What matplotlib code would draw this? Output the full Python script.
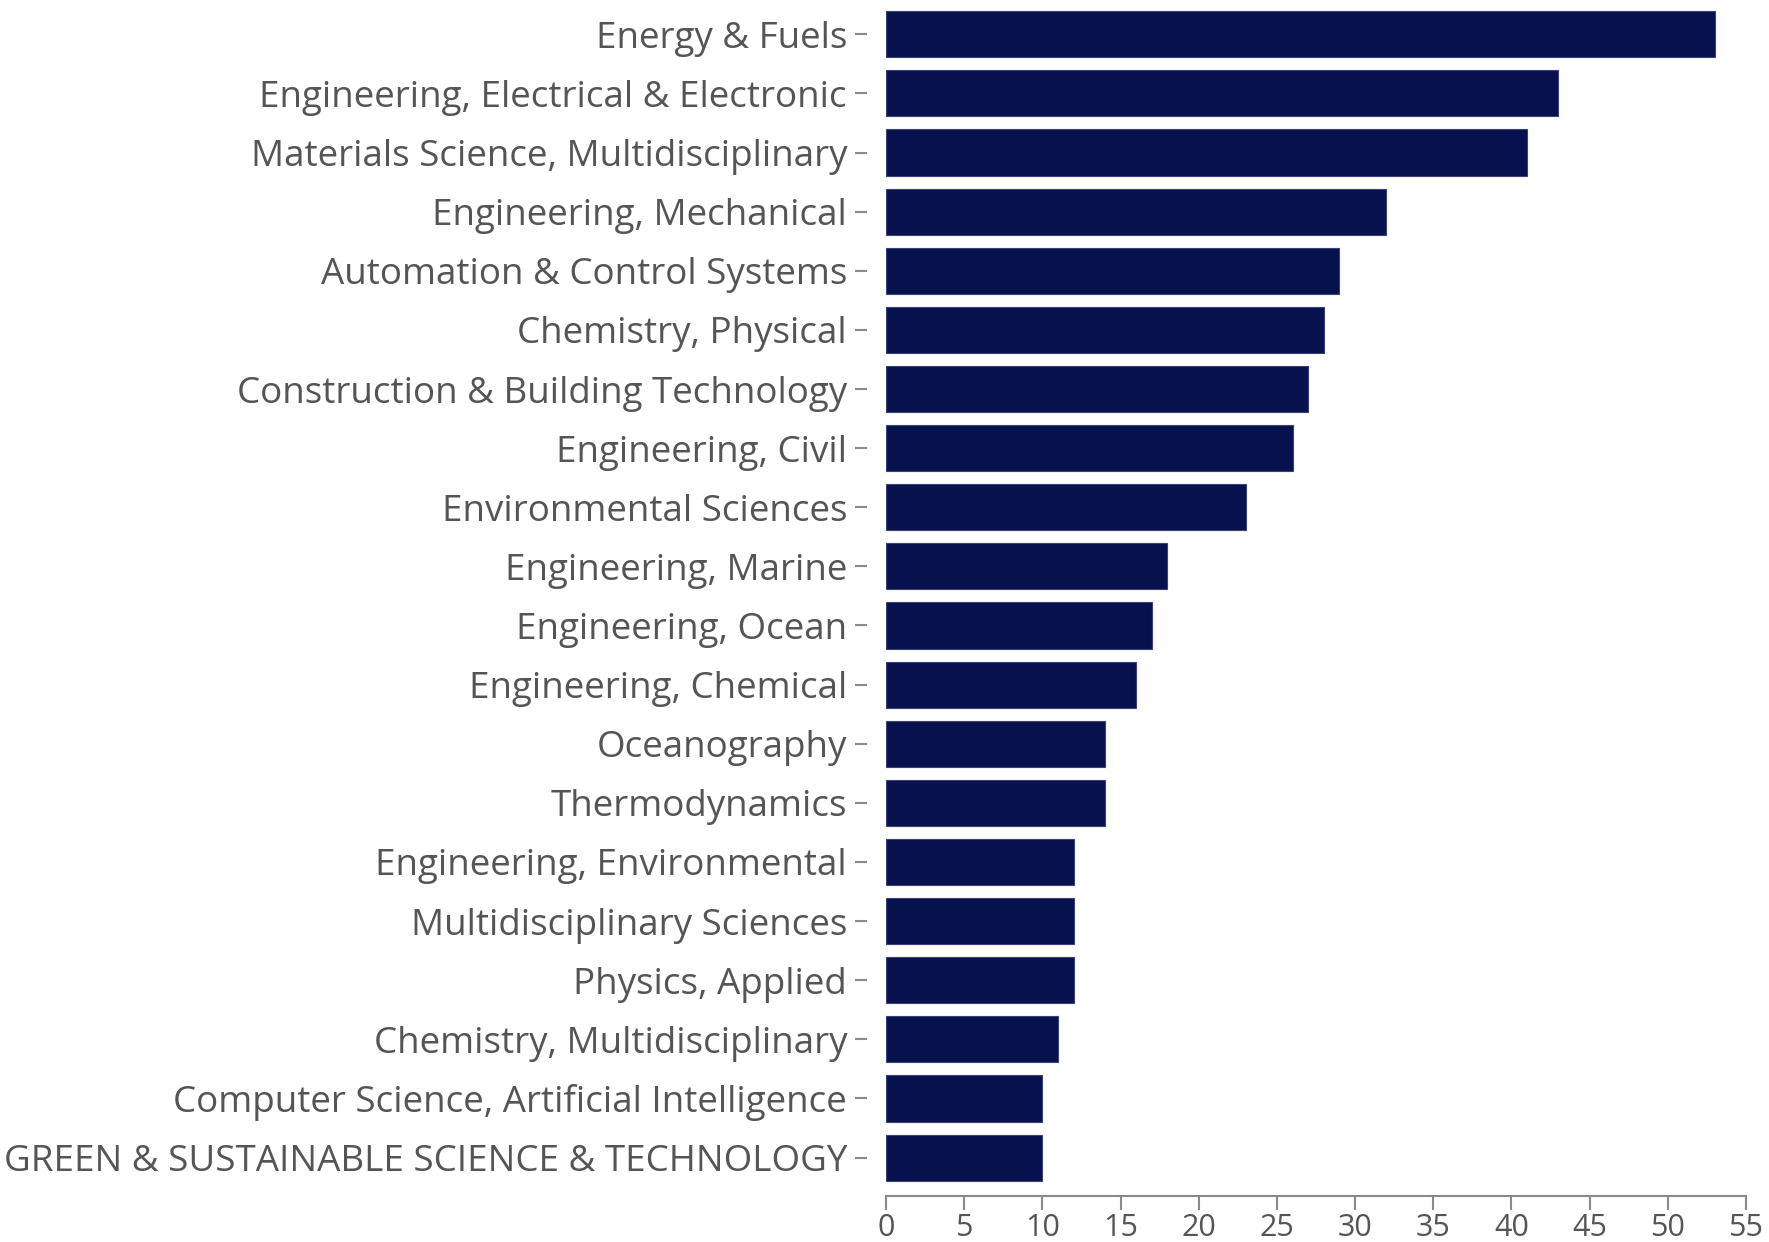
import matplotlib.pyplot as plt
import numpy as np

# categories (top to bottom) and record counts
categories = [
    'Energy & Fuels',
    'Engineering, Electrical & Electronic',
    'Materials Science, Multidisciplinary',
    'Engineering, Mechanical',
    'Automation & Control Systems',
    'Chemistry, Physical',
    'Construction & Building Technology',
    'Engineering, Civil',
    'Environmental Sciences',
    'Engineering, Marine',
    'Engineering, Ocean',
    'Engineering, Chemical',
    'Oceanography',
    'Thermodynamics',
    'Engineering, Environmental',
    'Multidisciplinary Sciences',
    'Physics, Applied',
    'Chemistry, Multidisciplinary',
    'Computer Science, Artificial Intelligence',
    'GREEN & SUSTAINABLE SCIENCE & TECHNOLOGY',
]
counts = [53, 43, 41, 32, 29, 28, 27, 26, 23, 18, 17, 16, 14, 14, 12, 12, 12, 11, 10, 10]
x_ticks = list(range(0, 56, 5))

plt.rcParams['font.family'] = ['Open Sans', 'DejaVu Sans']
text_color = '#555555'
axis_color = '#8a8a8a'

fig = plt.figure(figsize=(17.69, 12.42), dpi=100)
ax = fig.add_axes([886 / 1769, 46 / 1242, 860 / 1769, 1196 / 1242])

y = np.arange(len(categories))
ax.barh(y, counts, height=0.78, color='#07114e', edgecolor='#3a4275', linewidth=0.8)

ax.set_xlim(0, 55)
ax.set_ylim(19.65, -0.58)
ax.set_yticks(y)
ax.set_yticklabels(categories)
ax.set_xticks(x_ticks)

for s in ['top', 'right']:
    ax.spines[s].set_visible(False)
ax.spines['left'].set_position(('outward', 14))
ax.spines['left'].set_visible(False)
ax.spines['bottom'].set_color(axis_color)
ax.spines['bottom'].set_linewidth(1.5)

ax.tick_params(axis='y', length=9, width=1.5, color=axis_color, pad=5,
               labelsize=26.5, labelcolor=text_color)
ax.tick_params(axis='x', length=10, width=1.5, color=axis_color, pad=2,
               labelsize=22, labelcolor=text_color)

fig.savefig('out.png', dpi=100)
